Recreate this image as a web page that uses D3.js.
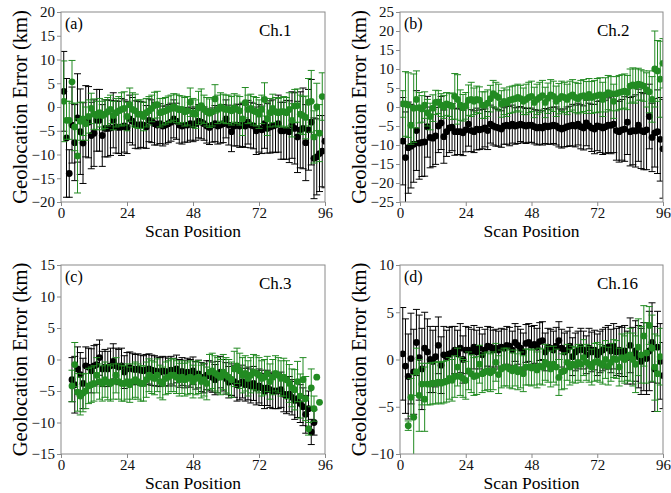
<!DOCTYPE html>
<html>
<head>
<meta charset="utf-8">
<script src="https://cdn.jsdelivr.net/npm/d3@7"></script>
<style>
  body { margin: 0; background: #fff; }
</style>
</head>
<body>
<div id="chart"></div>
<script>
// scan positions (x categories)
var scanPos = [1,2,3,4,5,6,7,8,9,10,11,12,13,14,15,16,17,18,19,20,21,22,23,24,25,26,27,28,29,30,31,32,
  33,34,35,36,37,38,39,40,41,42,43,44,45,46,47,48,49,50,51,52,53,54,55,56,57,58,59,60,61,62,63,64,
  65,66,67,68,69,70,71,72,73,74,75,76,77,78,79,80,81,82,83,84,85,86,87,88,89,90,91,92,93,94,95,96];
var xTicks = [0, 24, 48, 72, 96];
var ch1Ticks = [-20, -15, -10, -5, 0, 5, 10, 15, 20];
var ch2Ticks = [-25, -20, -15, -10, -5, 0, 5, 10, 15, 20, 25];
var ch3Ticks = [-15, -10, -5, 0, 5, 10, 15];
var ch16Ticks = [-10, -5, 0, 5, 10];

// Ch.1
var ch1BlackMean = [3.3,-6.5,-14,-3.8,-7.5,-2.3,-5.2,-7.6,-3,-3.2, -6,-5.5,-2.8,-2.8,-6,-4.5,-4.5,-4.4,-2.8,-4.2,
  -4.3,-4.2,-4,-4.3,-2.5,-3,-3.7,-3.8,-3.7,-3.8, -4.2,-2.8,-3,-3.5,-3.8,-3.5,-4,-3.8,-3.5,-3.2,
  -2.5,-3,-3.8,-4,-3.8,-3.8,-3.5,-3.8,-3.5,-3, -3.2,-3.5,-4,-4.3,-3.8,-3.5,-4,-3.8,-3.5,-2.5,
  -3.8,-5.2,-4,-3.8,-4,-3.8,-4,-3.2,-3.8,-4, -5,-4.5,-4.8,-3.5,-4.5,-4.2,-4,-3.8,-3.5,-5,
  -5,-4.8,-5.2,-3.8,-4.5,-6.3,-4.8,-4.5,-7.5,-4.8, -3.2,-10.8,-10.5,-9.8,-9.3,-7.2];
var ch1BlackErr = [8.4,12.5,5,8,8,9.3,9,8.5,7.5,7.5, 7,7,6.5,6.5,6.5,6,6,5.8,5.8,5.5,
  5.5,6,5.5,5.5,5,5,5,5,4.8,4.8, 4.5,4.5,4.5,4.5,4.2,4.2,4.2,4,4,4, 4,3.8,3.8,3.8,3.6,3.6,3.5,3.5,3.5,3.5,
  3.5,3.5,3.6,3.6,3.6,3.8,3.8,3.8,4,4, 4.2,4.2,4.2,4.4,4.5,4.5,4.5,4.6,4.8,4.8, 5,5,5,5.2,5.2,5.5,5.5,5.8,6,6,
  6,6.2,6.5,7,7.5,7.5,8,8.5,8,8.5, 9,8.5,8,8,7.5,9.8];
var ch1GreenMean = [1.2,-2.8,-2.8,5.3,-4.2,-10.3,-3,-2.5,-3.5,-2, -0.3,-1.5,-1.8,-1.2,-1.8,-1.5,-1,-0.5,-1.8,-1.2,
  -0.8,-0.5,-0.3,-2,0.5,-0.5,-0.8,-1.5,-1.5,-2, -1.2,-0.8,-0.3,0.3,0.5,-1.2,-1,-0.8,-0.5,-0.3,
  0,-0.3,-0.6,-0.5,-1,-0.8,1,-1.2,-1.5,-0.2, 0.3,-0.5,-1,-1.3,-1,1.7,-0.5,0,-0.3,-0.5,
  -0.5,-0.8,-0.2,-0.5,-0.8,-2.5,0.9,-0.5,-0.3,-0.8, -1,-1.5,-0.5,1.6,-2.5,-1.2,-0.3,-1,-1.2,-1,
  -1,-1.2,-0.5,-2.8,0.2,0.3,-1.5,-1.8,-2.2,1, 1.2,-6.3,0,-5.5,2.2,null];
var ch1GreenErr = [8.5,4,4,4.5,5,7.8,4,3.5,3.5,3.5, 3.2,3.2,3,3,3,3,3,3,3,3, 3,3.5,3.5,3,3.5,3.5,3.5,3,3,3,
  3,3,2.8,2.8,2.8,3,2.8,2.8,2.8,2.8, 2.8,3,3,2.8,3,3,3,3,3,3.5, 3.5,3,3,3,3,3,3,3,3,3,
  3,3,3,3,3,3.5,3.2,3,3,3, 3,3,3,3.5,3.5,3,3,3,3,3, 3.2,3.2,3.5,3.5,3.5,3.5,4,4,4.5,5, 6.5,5.5,5,6,5,null];

// Ch.2
var ch2BlackMean = [-9,-13.3,-10.7,-10.3,-9.8,-6.2,-9.5,-9.3,-9.2,-5.2, -8,-8.2,-7.6,-5,-4.2,-7.8,-6.5,-5.5,-5.3,-6.5,
  -6.5,-6.5,-6.8,-6,-4.5,-6.2,-6.5,-5.8,-6,-5.8, -5.5,-6.2,-4.5,-5,-5.3,-5.5,-5.8,-5,-4.8,-5,
  -4.5,-5,-4.8,-4.5,-4.8,-5,-4.8,-4.8,-5.2,-5.5, -5.3,-5.5,-5,-5.2,-5,-4.8,-5,-5.5,-5.8,-5.5,
  -5.2,-5,-4.8,-5,-4.5,-5.2,-5.5,-4.2,-5,-5.5, -5.8,-5,-5.2,-5.5,-5.2,-4.8,-4.8,-4.5,-6.2,-6.5,
  -6,-5.8,-4,-6.5,-6.2,-6.3,-4.8,-6.2,-6.5,-6, -2.5,-8,-6.8,-6.5,-8.5,-11];
var ch2BlackErr = [11.5,12,12,11,10,10.5,9.5,9,9,8, 8,7.5,7.5,7,7,7,6.5,6.5,6.2,6.2, 6,6,6,5.8,5.8,5.5,5.5,5.5,5.2,5.2,
  5,5,5,5,5,4.8,4.8,4.8,5,5.2, 5,4.8,4.8,4.6,4.6,4.6,4.5,4.5,4.5,4.5, 4.5,4.5,4.6,4.6,4.8,4.8,5,5,5,5,
  5.2,5.2,5.5,5.5,5.5,5.8,5.8,6,6,6.2, 6.5,6.5,6.8,7,7,7.2,7.5,7.5,7.8,8, 8,8.5,8.5,9,9,9.5,9.5,10,10,10.5,
  8.5,9,9,11,11,13];
var ch2GreenMean = [0.8,0.8,0.5,-4.8,-0.3,2,-0.2,-0.5,0.5,-1.5, -2.5,-0.3,1.2,1.3,0.5,0,0.8,0.5,0.2,2.8,
  2,0.5,-0.2,0.3,1.8,2,1.5,2,1.8,0.5, 0.5,1,2.2,3.5,3,2.5,0.8,1.5,1,1.8, 2,2.2,2.5,2.2,1.5,2,2.5,2.8,1.2,2,
  2.5,3,1.2,2.3,3.2,2.8,1.5,2.2,2.8,2.5, 2,2.8,3.2,2.5,2.2,2.8,3,2.5,3.3,2.5, 2.8,3,3.2,2,3.2,3.8,3.5,1.5,3.5,3.8,
  4,4.2,3.8,5.5,5.8,5.5,6,5.8,5.5,4.5, 4,2,10,9.5,7.3,11.5];
var ch2GreenErr = [3.5,8.5,8.5,5,9,7.5,4,3.5,3.5,3.5, 3.5,3.5,3.2,3,3,3,3,3,3.5,6, 6.5,4,3.5,3.5,4,4.5,3.5,3.5,3.5,3.5,
  3.5,3.5,3.5,3.5,3.5,3.5,3.5,3.5,3.5,3.5, 3.5,3.5,3.5,3.5,3.5,4,4,4,4,4, 4,4,4,4,4,4,4,4,4,4,
  4,4,4,4,4,4.2,4.2,4.2,4.2,4.2, 4.2,4.5,4.5,4.5,4.5,4.5,4.5,4.5,4.5,4.5, 4.5,4.5,4.5,4.5,4.5,4.5,4.2,4,4,4.5,
  5.5,6,10,8,10,6.5];

// Ch.3
var ch3BlackMean = [null,null,null,-3.2,-4,-1.5,-2.4,-3.8,-1,-1.2, -1.8,-1,-0.8,0.3,-1.5,-1.2,-1.5,-1,-0.3,-1,
  -1.2,-1,-2,-1.5,-1.3,-1.5,-1.6,-1.5,-1.7,-1.8, -1.6,-1.5,-1.7,-1.8,-1.9,-2,-1.8,-1.9,-2,-1.7,
  -2,-1.5,-2.2,-1.9,-2.3,-2,-2.2,-1.8,-2.5,-2.3, -2.8,-3,-2.5,-2.6,-2.8,-3.2,-2.8,-2,-2.5,-3,
  -3.6,-3.2,-3.5,-4,-3.8,-3.5,-4,-3.8,-4.2,-3.8, -4.5,-4.2,-4.5,-5,-4.5,-4.8,-5,-5,-5,-4.8,
  -5.5,-5.8,-5.5,-6,-6.5,-6.2,-7,-7.5,-8.7,-7.8, -11.5,-10,null,null,null,null];
var ch3BlackErr = [null,null,null,3.5,4.5,3.5,3.5,4,3,3, 3.5,3.2,3.2,2.8,2.8,2.8,2.8,2.8,2.8,2.8,
  2.8,2.8,2.6,2.6,2.5,2.5,2.4,2.4,2.4,2.4, 2.4,2.4,2.4,2.4,2.3,2.3,2.3,2.3,2.2,2.2, 2.2,2.2,2.2,2.2,2.2,2.2,2.2,2.2,2.2,2.2,
  2.3,2.3,2.3,2.4,2.4,2.4,2.5,2.5,2.5,2.5, 2.5,2.5,2.5,2.6,2.6,2.6,2.6,2.6,2.7,2.7, 2.7,2.7,2.8,2.8,2.8,2.8,2.8,2.8,2.8,2.8,
  2.8,2.8,2.8,2.8,3,3,3,3,3,2.8, 2,2,null,null,null,null];
var ch3GreenMean = [null,null,null,-4.2,-0.8,-5.2,-5.8,-5.3,-5,-4.2, -4,-3.8,-2.5,-3.5,-3.8,-3.2,-3.6,-3.8,-3.5,-2.5,
  -3.5,-3.8,-3.8,-3.5,-4,-3.5,-3.2,-3.5,-3.8,-3.8, -3.2,-2.5,-2.8,-3,-2.5,-3.5,-3.8,-3,-2.8,-2.5,
  -2.5,-2.8,-3.2,-2.8,-3.2,-3,-2.8,-3.5,-3,-2.8, -3.5,-3.2,-3.8,-2,-1.8,-2.2,-2.5,-2.8,-2,-2.5,
  -2.8,-3.2,-1.5,-1,-1.8,-2.5,-2.2,-3,-2.5,-2, -2.2,-2.5,-3,-2.8,-2.3,-3.5,-2.8,-2.2,-2.5,-3,
  -2.8,-3.2,-3.8,-4.5,-4.8,-3.5,-5.8,-3.2,-6.2,-11, -4.5,-7.8,-2.8,-6.8,null,null];
var ch3GreenErr = [null,null,null,2.5,3.5,3,3,3,2.8,2.8, 2.8,2.8,2.8,2.8,2.8,2.8,2.8,2.8,2.8,2.8,
  2.8,2.8,2.8,2.8,2.8,2.8,2.8,2.8,2.8,2.8, 2.8,2.6,2.6,2.6,2.6,2.6,2.6,2.6,2.6,2.6, 2.6,2.6,2.6,2.6,2.6,2.6,2.6,2.6,2.6,2.6,
  2.6,2.6,2.6,2.8,2.8,2.8,2.8,2.8,2.8,2.8, 2.8,2.8,2.8,2.8,2.8,2.8,2.8,2.8,2.8,2.8, 2.8,2.8,2.8,2.8,2.8,2.8,2.8,2.8,2.8,2.8,
  3,3,3,3,3.2,3.2,3.5,3.5,3.5,1, 3,2,0,0,null,null];

// Ch.16
var ch16BlackMean = [0.6,-0.7,-1.8,0.1,-1.3,1.8,0.2,-1,1.2,0.8, 0,-0.2,0.3,1.5,-0.6,0.5,0.3,0.6,0.7,1,
  0.6,1.2,0,1,1,0.8,1.3,0.8,1.2,0.5, 1,1.4,1.3,1,1.2,1,1.3,1.2,1.5,1.4, 1,1.8,1.5,1.2,0.8,1.7,1.8,1.5,1.6,1.3,
  1.9,2,0.8,1.3,1.2,1,1.4,2,1.2,0.8, 1,1.4,0.3,0.8,1,1.3,1,0.5,1.2,0.8, 1,0.5,0.8,1,1.2,1.3,0.9,1.4,0.8,1,
  0.8,0.9,0.2,1.5,0.4,0.9,0.3,-0.2,0.3,0.1, 0.9,1.8,-1,1.3,-0.2,-1.7];
var ch16BlackErr = [4.9,5,4.5,4.8,4.5,3.5,4.5,4.3,3.8,3.5, 3.5,3.3,3.2,3,3,3,2.8,2.8,2.8,2.5,
  2.5,2.6,2.5,2.5,2.4,2.4,2.3,2.3,2.2,2.2, 2.2,2.1,2.1,2.1,2,2,2,2,2,2, 2,2,2,2,2,2,2,2,2,2,
  2,2,2,2,2,2,2,2,2,2, 2,2,2,2,2,2,2,2,2.1,2.1, 2.1,2.2,2.2,2.2,2.2,2.3,2.3,2.4,2.5,2.5,
  2.6,2.7,2.8,2.9,3,3.2,3.3,3.5,3.6,3.8, 4.2,4.2,4.5,3.8,4,3.5];
var ch16GreenMean = [null,null,-7,-4,-6.1,-1.3,-3.8,-2.6,-4.2,-2.6, -2.6,-2.5,-2.5,-2.4,-2.5,-2.4,-2.3,-2,-2.2,-1.8,
  -0.8,-1.8,-2,-2.2,-1.2,-1.5,-1.8,-1.7,-0.5,-1.5, -1.3,-1.2,-1.4,-1.2,-0.3,-1.6,-1,-0.8,-0.8,-1,
  -1.2,-0.9,-1.3,-1.1,-1.5,-0.8,-0.8,-0.9,-0.8,-1.1, -0.7,-0.8,-0.3,-0.5,-1,-0.5,-0.8,-1.9,-1.3,-1.2,
  -0.3,-0.8,-0.5,-0.6,-0.3,-0.5,0.2,-0.3,-0.5,-0.8, -0.3,-0.2,-0.4,-0.6,0,-0.7,-0.3,0.1,0,-0.8,
  0.2,0,0.3,0.5,0,-0.5,1.3,0.5,2.5,0.7, 3.6,1.2,-0.8,-1.5,0.3,null];
var ch16GreenErr = [null,null,0.5,2,4.5,2.5,3.8,2.2,3.4,2.2, 2.2,2.2,2.2,2.2,2.2,2.2,2.2,2.2,2.2,2.2,
  2,2,2,2,2,2,2,2,2,2, 2,2,2,2,2,2,2,2,2,2, 1.9,1.9,1.9,1.9,1.9,1.9,1.9,1.9,1.9,1.9,
  1.9,1.9,1.9,1.9,1.9,1.9,1.9,1.9,1.9,1.9, 1.9,1.9,1.9,1.9,1.9,1.9,1.9,1.9,1.9,1.9, 2,2,2,2,2,2,2,2,2,2,
  2.5,2.5,2.5,2.8,2.8,3,3,3,3.2,3.2, 2,3.5,3.5,4,3,null];

var panels = [
  {tag: "(a)", ch: "Ch.1", x0: 61, x1: 325, y0: 12, y1: 202, yDom: [-20, 20], yTicks: ch1Ticks,
   black: [ch1BlackMean, ch1BlackErr], green: [ch1GreenMean, ch1GreenErr]},
  {tag: "(b)", ch: "Ch.2", x0: 400, x1: 663, y0: 12, y1: 202, yDom: [-25, 25], yTicks: ch2Ticks,
   black: [ch2BlackMean, ch2BlackErr], green: [ch2GreenMean, ch2GreenErr]},
  {tag: "(c)", ch: "Ch.3", x0: 61, x1: 325, y0: 265, y1: 454, yDom: [-15, 15], yTicks: ch3Ticks,
   black: [ch3BlackMean, ch3BlackErr], green: [ch3GreenMean, ch3GreenErr]},
  {tag: "(d)", ch: "Ch.16", x0: 400, x1: 663, y0: 265, y1: 454, yDom: [-10, 10], yTicks: ch16Ticks,
   black: [ch16BlackMean, ch16BlackErr], green: [ch16GreenMean, ch16GreenErr]}
];

var serif = "'Liberation Serif', 'Times New Roman', serif";
var frameColor = "#8a8a8a";
var greenColor = "#228b22";

var svg = d3.select("#chart").append("svg")
  .attr("width", 671)
  .attr("height", 493)
  .style("font-family", serif);

panels.forEach(function(p, k) {
  var w = p.x1 - p.x0, h = p.y1 - p.y0;
  var g = svg.append("g").attr("transform", `translate(${p.x0},${p.y0})`);

  var x = d3.scaleLinear().domain([0, 96]).range([0, w]);
  var y = d3.scaleLinear().domain(p.yDom).range([h, 0]);

  g.append("clipPath").attr("id", "clip" + k)
    .append("rect").attr("width", w).attr("height", h);

  var plot = g.append("g").attr("clip-path", `url(#clip${k})`);

  function drawSeries(series, color) {
    var rows = scanPos.map(function(s, i) {
      return {s: s, m: series[0][i], e: series[1][i]};
    }).filter(function(d) { return d.m !== null; });
    var withErr = rows.filter(d => d.e > 0);

    var bars = plot.append("g").attr("stroke", color).attr("stroke-width", 1);
    bars.selectAll("line.v").data(withErr).enter().append("line")
      .attr("x1", d => x(d.s)).attr("x2", d => x(d.s))
      .attr("y1", d => y(d.m - d.e)).attr("y2", d => y(d.m + d.e));
    bars.selectAll("line.t").data(withErr).enter().append("line")
      .attr("x1", d => x(d.s) - 3.5).attr("x2", d => x(d.s) + 3.5)
      .attr("y1", d => y(d.m + d.e)).attr("y2", d => y(d.m + d.e));
    bars.selectAll("line.b").data(withErr).enter().append("line")
      .attr("x1", d => x(d.s) - 3.5).attr("x2", d => x(d.s) + 3.5)
      .attr("y1", d => y(d.m - d.e)).attr("y2", d => y(d.m - d.e));

    plot.append("g").selectAll("circle").data(rows).enter().append("circle")
      .attr("cx", d => x(d.s))
      .attr("cy", d => y(d.m))
      .attr("r", 3.4)
      .attr("fill", color);
  }

  drawSeries(p.black, "#000");
  drawSeries(p.green, greenColor);

  // axes
  var xAxis = g.append("g")
    .attr("transform", `translate(0,${h})`)
    .call(d3.axisBottom(x).tickValues(xTicks).tickSize(4).tickPadding(1));
  var yAxis = g.append("g")
    .call(d3.axisLeft(y).tickValues(p.yTicks).tickSize(4).tickPadding(2));

  [xAxis, yAxis].forEach(function(a) {
    a.attr("font-family", null).attr("font-size", null);
    a.select(".domain").remove();
    a.selectAll("line").attr("stroke", frameColor);
    a.selectAll("text")
      .attr("fill", "#111")
      .style("font-family", serif)
      .style("font-size", "15px");
  });

  g.append("rect")
    .attr("width", w).attr("height", h)
    .attr("fill", "none")
    .attr("stroke", frameColor)
    .attr("stroke-width", 1);

  g.append("text")
    .attr("x", 4).attr("y", 17)
    .style("font-size", "16px")
    .text(p.tag);

  g.append("text")
    .attr("x", w - 66).attr("y", 24)
    .style("font-size", "17px")
    .text(p.ch);

  g.append("text")
    .attr("x", w / 2).attr("y", h + 35)
    .attr("text-anchor", "middle")
    .style("font-size", "17.5px")
    .text("Scan Position");

  g.append("text")
    .attr("transform", `translate(-41,${h / 2}) rotate(-90)`)
    .attr("text-anchor", "middle")
    .attr("dy", "0.35em")
    .style("font-size", "20.5px")
    .text("Geolocation Error (km)");
});
</script>
</body>
</html>
